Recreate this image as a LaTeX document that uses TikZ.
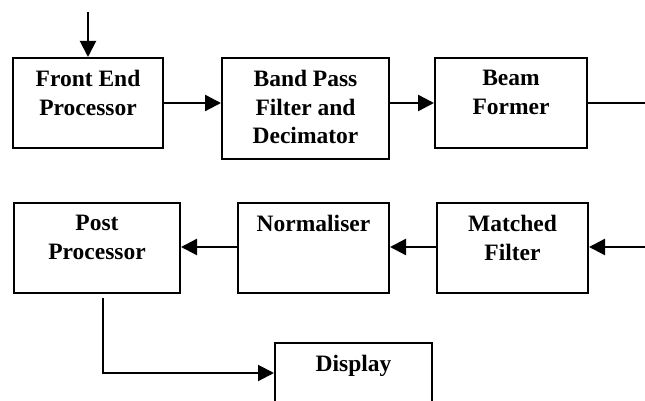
\documentclass[tikz,border=0pt]{standalone}
\usepackage{fontspec}
\setmainfont{Liberation Serif}
\usetikzlibrary{arrows.meta}
\begin{document}
\begin{tikzpicture}[x=1pt,y=-1pt,
	block/.style={draw,line width=2pt,inner sep=0pt,minimum height=90pt},
	lbl/.style={anchor=north,inner xsep=0pt,inner ysep=13pt,align=center,font=\fontsize{23.5}{28.5}\selectfont\bfseries},
	conn/.style={line width=2.4pt,-{Triangle[length=16pt,width=16pt]}}]
	\useasboundingbox (0,0) rectangle (645,401);
	\clip (0,0) rectangle (645,401);
	% upper row
	\node[block,minimum width=150pt] (fep) at (88,103) {};
	\node[block,minimum width=167pt,minimum height=101pt] (bpf) at (305.5,108.5) {};
	\node[block,minimum width=152pt] (bf) at (511,103) {};
	% lower row
	\node[block,minimum width=166pt] (pp) at (97,248) {};
	\node[block,minimum width=151pt] (nrm) at (313.5,248) {};
	\node[block,minimum width=151pt] (mf) at (512.5,248) {};
	\node[block,minimum width=157pt] (dsp) at (353.5,388) {};
	% texts
	\node[lbl] (fept) at (fep.north) {Front End\\Processor};
	\node[lbl] (bpft) at (bpf.north) {Band Pass\\Filter and\\Decimator};
	\node[lbl] (bft) at (bf.north) {Beam\\Former};
	\node[lbl] (ppt) at (pp.north) {Post\\Processor};
	\node[lbl] (nrmt) at (nrm.north) {Normaliser};
	\node[lbl] (mft) at (mf.north) {Matched\\Filter};
	\node[lbl] (dspt) at (dsp.north) {Display};
	% free ends
	\coordinate (in) at (88,12);
	\coordinate (bfout) at (645,103);
	\coordinate (mfin) at (645,247);
	\coordinate (ppout) at (103,298);
	\coordinate (bend) at (103,373);
	% connectors
	\draw[conn,line width=2pt] (in) -- (fep.north);
	\draw[conn] (fep.east) -- (fep.east -| bpf.west);
	\draw[conn] (bpf.east |- bf.west) -- (bf.west);
	\draw[line width=2pt] (bf.east) -- (bfout);
	\draw[conn] (mfin) -- (mf.east |- mfin);
	\draw[conn] (mf.west |- mfin) -- (nrm.east |- mfin);
	\draw[conn] (nrm.west |- mfin) -- (pp.east |- mfin);
	\draw[conn,line width=2pt] (ppout) -- (bend) -- (bend -| dsp.west);
\end{tikzpicture}
\end{document}
